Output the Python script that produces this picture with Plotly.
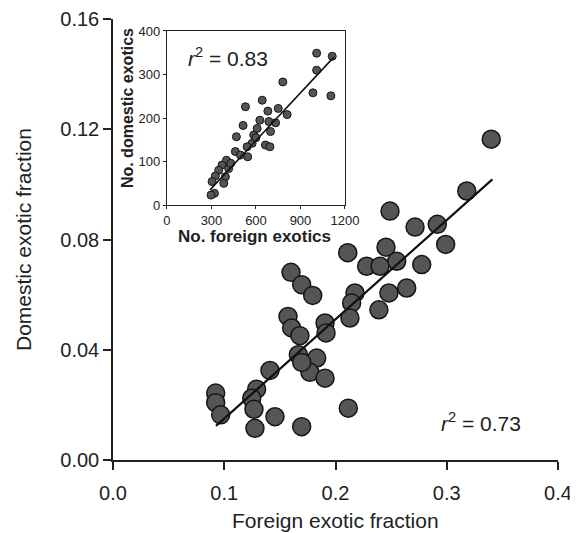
import plotly.graph_objects as go

# ---- main panel data: foreign vs domestic exotic fraction ----
foreign_frac = [0.340, 0.318, 0.2915, 0.2715, 0.249, 0.299, 0.2775, 0.2454, 0.255, 0.228,
                0.240, 0.211, 0.264, 0.248, 0.239, 0.2175, 0.2145, 0.213, 0.1906, 0.1915,
                0.1831, 0.177, 0.1906, 0.2115, 0.1696, 0.160, 0.1696, 0.1795, 0.1573, 0.1606,
                0.168, 0.1666, 0.1696, 0.1411, 0.1291, 0.1247, 0.1267, 0.0923, 0.0923, 0.0968,
                0.1456, 0.1276]
domestic_frac = [0.1164, 0.0976, 0.0855, 0.0845, 0.0903, 0.0782, 0.0709, 0.0772, 0.0721, 0.0703,
                 0.0703, 0.0752, 0.0624, 0.0606, 0.0545, 0.0606, 0.0570, 0.0515, 0.0497, 0.0461,
                 0.0370, 0.0318, 0.0297, 0.0188, 0.0121, 0.0681, 0.0636, 0.0597, 0.0521, 0.0479,
                 0.0451, 0.0382, 0.0354, 0.0325, 0.0257, 0.0224, 0.0184, 0.0243, 0.0208, 0.0164,
                 0.0157, 0.0115]
main_fit_x = [0.0926, 0.341]
main_fit_y = [0.0124, 0.1018]
main_r2 = "0.73"

# ---- inset data: counts ----
foreign_n = [1009, 1114, 1009, 781, 984, 1105, 642, 529, 750, 810, 680, 626, 687, 513, 732, 698,
             608, 585, 468, 664, 694, 574, 540, 461, 495, 544, 401, 371, 349, 416, 326, 304,
             394, 383, 320, 297, 600, 430]
domestic_n = [349, 342, 310, 283, 258, 251, 241, 226, 222, 208, 216, 195, 192, 183, 189, 169,
              176, 161, 157, 138, 134, 142, 134, 123, 115, 111, 103, 92, 80, 84, 67, 54,
              65, 50, 27, 23, 155, 96]
inset_fit_x = [290, 1125]
inset_fit_y = [35, 340]
inset_r2 = "0.83"

main_x_ticks = [0.0, 0.1, 0.2, 0.3, 0.4]
main_y_ticks = [0.00, 0.04, 0.08, 0.12, 0.16]
inset_x_ticks = [0, 300, 600, 900, 1200]
inset_y_ticks = [0, 100, 200, 300, 400]

FONT = "Liberation Sans, Arial, Helvetica, sans-serif"
FILL = "#555555"
EDGE = "#151515"

fig = go.Figure()
fig.add_trace(go.Scatter(x=foreign_frac, y=domestic_frac, mode="markers",
                         marker=dict(size=18, color=FILL, line=dict(color=EDGE, width=1.5)),
                         xaxis="x", yaxis="y", showlegend=False, cliponaxis=False))
fig.add_trace(go.Scatter(x=main_fit_x, y=main_fit_y, mode="lines",
                         line=dict(color="#111", width=2.2),
                         xaxis="x", yaxis="y", showlegend=False))
fig.add_trace(go.Scatter(x=foreign_n, y=domestic_n, mode="markers",
                         marker=dict(size=8, color=FILL, line=dict(color=EDGE, width=1)),
                         xaxis="x2", yaxis="y2", showlegend=False))
fig.add_trace(go.Scatter(x=inset_fit_x, y=inset_fit_y, mode="lines",
                         line=dict(color="#111", width=1.6),
                         xaxis="x2", yaxis="y2", showlegend=False))

axis_common = dict(showgrid=False, zeroline=False, showline=True, linecolor="#222",
                   ticks="outside", tickcolor="#222", automargin=False)

fig.update_layout(
    width=570, height=525,
    margin=dict(l=105, r=20, t=11, b=73),
    paper_bgcolor="white", plot_bgcolor="white",
    font=dict(family=FONT, color="#222"),
    xaxis=dict(axis_common, range=[0, 0.4], tickvals=main_x_ticks, tickformat=".1f",
               linewidth=1.5, tickwidth=1.5, ticklen=8, domain=[0, 1],
               tickfont=dict(size=20), ticklabelstandoff=6),
    yaxis=dict(axis_common, range=[0, 0.16], tickvals=main_y_ticks, tickformat=".2f",
               linewidth=1.5, tickwidth=1.5, ticklen=8, domain=[0, 1],
               tickfont=dict(size=20)),
    xaxis2=dict(axis_common, range=[0, 1200], tickvals=inset_x_ticks, anchor="y2",
                domain=[0.1213, 0.5213], mirror=True, linewidth=1.3, ticklen=3,
                tickfont=dict(size=13)),
    yaxis2=dict(axis_common, range=[0, 400], tickvals=inset_y_ticks, anchor="x2",
                domain=[0.578, 0.9728], mirror=True, linewidth=1.3, ticklen=3,
                tickfont=dict(size=13)),
    annotations=[
        dict(text="Foreign exotic fraction", xref="paper", yref="paper", x=0.5, y=-0.1383,
             xanchor="center", yanchor="middle", showarrow=False, font=dict(size=21)),
        dict(text="Domestic exotic fraction", xref="paper", yref="paper", x=-0.2011, y=0.5,
             xanchor="center", yanchor="middle", textangle=-90, showarrow=False,
             font=dict(size=21)),
        dict(text="<b>No. foreign exotics</b>", xref="paper", yref="paper", x=0.319, y=0.5057,
             xanchor="center", yanchor="middle", showarrow=False, font=dict(size=17)),
        dict(text="<b>No. domestic exotics</b>", xref="paper", yref="paper", x=0.0315, y=0.798,
             xanchor="center", yanchor="middle", textangle=-90, showarrow=False,
             font=dict(size=16)),
        dict(text="<i>r</i><sup>2</sup> = " + main_r2, xref="paper", yref="paper", x=0.827,
             y=0.0868, xanchor="center", yanchor="middle", showarrow=False, font=dict(size=21)),
        dict(text="<i>r</i><sup>2</sup> = " + inset_r2, xref="paper", yref="paper", x=0.2584,
             y=0.9138, xanchor="center", yanchor="middle", showarrow=False, font=dict(size=21)),
    ],
)

fig.write_html("out.html")
